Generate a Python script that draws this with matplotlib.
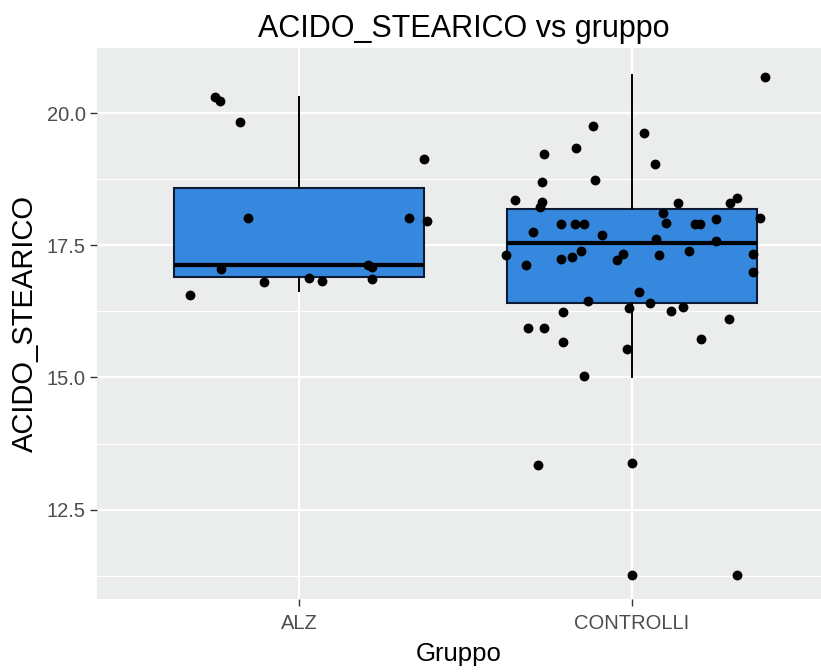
import matplotlib
matplotlib.use("Agg")
import matplotlib.pyplot as plt

plt.rcParams['font.family'] = ['Liberation Sans', 'DejaVu Sans']

# groups and box statistics as drawn in the reference
gruppi = ["ALZ", "CONTROLLI"]
q1 = [16.90, 16.41]
mediana = [17.13, 17.54]
q3 = [18.58, 18.19]
baffo_basso = [16.64, 15.01]
baffo_alto = [20.30, 20.72]

# jittered points: x offset from group centre, y value
alz_dx = [-0.252, -0.237, -0.177, 0.375, -0.153, 0.330, 0.384, -0.234,
          0.207, 0.219, 0.219, -0.105, 0.030, 0.069, -0.327]
alz_y = [20.30, 20.23, 19.83, 19.13, 18.02, 18.02, 17.96, 17.05,
         17.13, 17.09, 16.86, 16.81, 16.88, 16.82, 16.56]

ctrl_dx = [0.399, -0.117, 0.036, -0.168, -0.264, 0.069, -0.270, -0.111,
           -0.351, -0.270, -0.276, 0.138, 0.315, 0.294, 0.093, 0.384,
           0.102, 0.252, 0.189, 0.204, -0.213, -0.171, -0.144, -0.297,
           -0.090, 0.072, 0.252, -0.378, -0.153, -0.180, -0.213, -0.027,
           -0.045, 0.081, 0.171, 0.363, -0.318, 0.363, 0.021, -0.132,
           -0.009, 0.054, 0.117, 0.153, -0.207, 0.291, -0.312, -0.264,
           0.207, -0.207, -0.015, -0.144, -0.282, 0.000, 0.000, 0.315]
ctrl_y = [20.68, 19.75, 19.62, 19.34, 19.22, 19.04, 18.70, 18.73,
          18.36, 18.32, 18.22, 18.30, 18.39, 18.30, 18.11, 18.02,
          17.92, 18.00, 17.90, 17.90, 17.90, 17.90, 17.90, 17.75,
          17.69, 17.62, 17.58, 17.32, 17.39, 17.28, 17.24, 17.33,
          17.22, 17.32, 17.39, 17.33, 17.13, 17.00, 16.62, 16.45,
          16.31, 16.40, 16.26, 16.33, 16.24, 16.11, 15.94, 15.94,
          15.73, 15.67, 15.54, 15.03, 13.35, 13.38, 11.27, 11.27]

y_ticks = [12.5, 15.0, 17.5, 20.0]
y_minor = [11.25, 13.75, 16.25, 18.75]

fig = plt.figure(figsize=(8.21, 6.72), dpi=100)
ax = fig.add_axes([97 / 821, 73 / 672, 724 / 821, 551 / 672])
ax.set_facecolor("#EBEDED")
for s in ax.spines.values():
    s.set_visible(False)

stats = []
for i, g in enumerate(gruppi):
    stats.append(dict(label=g, q1=q1[i], med=mediana[i], q3=q3[i],
                      whislo=baffo_basso[i], whishi=baffo_alto[i], fliers=[]))
ax.bxp(stats, positions=[1, 2], widths=0.75, showcaps=False, patch_artist=True,
       manage_ticks=False,
       boxprops=dict(facecolor="#3588DE", edgecolor="#0d1a33", linewidth=1.5),
       medianprops=dict(color="black", linewidth=3),
       whiskerprops=dict(color="black", linewidth=1.4))

ax.scatter([1 + d for d in alz_dx], alz_y, s=50, color="black", zorder=5, linewidths=0)
ax.scatter([2 + d for d in ctrl_dx], ctrl_y, s=50, color="black", zorder=5, linewidths=0)

# grid and ticks
ax.set_yticks(y_ticks, ["12.5", "15.0", "17.5", "20.0"])
ax.set_yticks(y_minor, minor=True)
ax.set_xticks([1, 2], gruppi)
ax.grid(which="major", color="white", linewidth=1.6)
ax.grid(which="minor", axis="y", color="white", linewidth=0.8)
ax.set_axisbelow(True)

ax.set_xlim(0.393, 2.568)
ax.set_ylim(10.81, 21.23)
ax.tick_params(which="major", length=5, width=1, color="#333333",
               labelsize=14.5, labelcolor="#4D4D4D", pad=3)
ax.tick_params(which="minor", length=0)
ax.tick_params(axis="x", pad=6)

ax.set_xlabel("Gruppo", fontsize=18.5, labelpad=6)
ax.set_ylabel("ACIDO_STEARICO", fontsize=21, labelpad=6)
ax.set_title("ACIDO_STEARICO vs gruppo", fontsize=22, x=0.507, pad=8)

fig.savefig("out.png", dpi=100)
